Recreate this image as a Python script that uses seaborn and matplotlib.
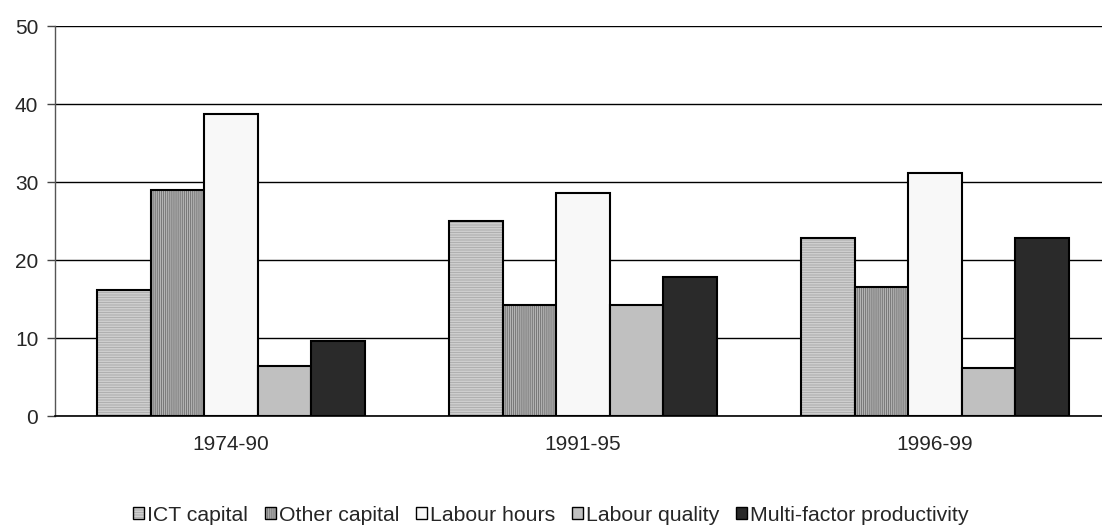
import matplotlib
matplotlib.use("Agg")
import matplotlib.pyplot as plt
import matplotlib.colors as mcolors
import seaborn as sns
import pandas as pd

periods = ["1974-90", "1991-95", "1996-99"]
components = ["ICT capital", "Other capital", "Labour hours", "Labour quality", "Multi-factor productivity"]
ict_capital = [16.1, 25.0, 22.8]
other_capital = [29.0, 14.2, 16.6]
labour_hours = [38.7, 28.6, 31.2]
labour_quality = [6.4, 14.2, 6.2]
mfp = [9.6, 17.8, 22.8]

series = [ict_capital, other_capital, labour_hours, labour_quality, mfp]
rows = []
for comp, vals in zip(components, series):
    for p, v in zip(periods, vals):
        rows.append({"period": p, "component": comp, "share": v})
df = pd.DataFrame(rows)

faces = ["#dcdcdc", "#b4b4b4", "#f8f8f8", "#c0c0c0", "#2a2a2a"]
hatches = ["-" * 10, "|" * 8, None, None, None]
hatch_cols = ["#a8a8a8", "#6e6e6e", None, None, None]

sns.set_style("white")
plt.rcParams["font.family"] = ["Liberation Sans", "DejaVu Sans"]
plt.rcParams["hatch.linewidth"] = 0.6

fig = plt.figure(figsize=(11.02, 5.30), dpi=100)
ax = fig.add_axes([55 / 1102, 114 / 530, 1056 / 1102, 390 / 530])

sns.barplot(data=df, x="period", y="share", hue="component", order=periods,
            hue_order=components, palette=faces, width=0.76, ax=ax,
            edgecolor="black", linewidth=1.5, saturation=1, legend=False)

for cont, fc, h, hc in zip(ax.containers, faces, hatches, hatch_cols):
    for p in cont.patches:
        p.set_facecolor(fc)
        if h:
            p.set_hatch(h)
            p._hatch_color = mcolors.to_rgba(hc)

ax.set_ylim(0, 50)
ax.set_xlim(-0.5, 2.5)
ax.set_yticks(range(0, 51, 10))
ax.yaxis.grid(True, color="black", linewidth=1.0)
ax.set_axisbelow(True)
ax.set_xlabel("")
ax.set_ylabel("")

ax.set_xticks([0, 1, 2])
ax.set_xticklabels(periods, fontsize=15)
ax.tick_params(axis="x", length=0, pad=14)
ax.set_xticks([0.5, 1.5], minor=True)
ax.tick_params(axis="x", which="minor", length=6, width=1, color="#444444", direction="out")
ax.tick_params(axis="y", labelsize=15, length=6, width=1, color="#444444", direction="out", left=True, pad=6)

for s in ["top", "right"]:
    ax.spines[s].set_visible(False)
ax.spines["left"].set_color("#555555")
ax.spines["left"].set_linewidth(1)
ax.spines["bottom"].set_color("black")
ax.spines["bottom"].set_linewidth(1.2)

handles = [c.patches[0] for c in ax.containers]
leg = fig.legend(handles, components, loc="center", bbox_to_anchor=(0.5, 0.028),
                 ncol=5, frameon=False, fontsize=15.3, handlelength=0.5,
                 handleheight=0.5, handletextpad=0.15, columnspacing=0.8,
                 borderpad=0.0)
for lh in leg.legend_handles:
    lh.set_linewidth(1.0)

fig.savefig("out.png", dpi=100)
